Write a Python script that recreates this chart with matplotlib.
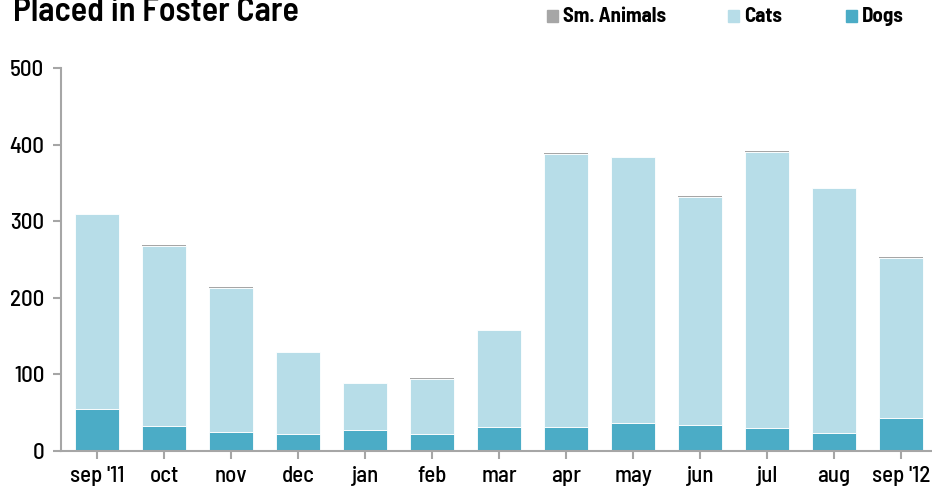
import numpy as np
import matplotlib.pyplot as plt

months = ["sep '11", "oct", "nov", "dec", "jan", "feb", "mar",
          "apr", "may", "jun", "jul", "aug", "sep '12"]
dogs = [55, 33, 25, 22, 27, 22, 31, 31, 37, 34, 30, 24, 43]
cats = [254, 234, 188, 107, 62, 72, 127, 357, 347, 298, 360, 319, 209]
sm_animals = [1, 2, 1, 0, 0, 1, 0, 1, 0, 1, 1, 0, 1]

# condensed face like the original; falls back to plain sans if missing
plt.rcParams['font.family'] = ["Barlow Semi Condensed", "Liberation Sans", "DejaVu Sans"]

c_dogs = "#4bacc6"
c_cats = "#b7dde8"
c_sm = "#a6a6a6"
grey = "#a6a6a6"

W, H = 932, 491
fig = plt.figure(figsize=(W / 100, H / 100), dpi=100)
# plot area: left spine at x=61 px, zero at y=451 px, 500 at y=68 px
ax = fig.add_axes([61 / W, (H - 451) / H, (W - 61) / W, (451 - 68) / H])

x = np.arange(len(months))
w = 0.66
dogs = np.array(dogs)
cats = np.array(cats)
sm_animals = np.array(sm_animals)

ax.bar(x, dogs, w, color=c_dogs, edgecolor="white", linewidth=0.6, label="Dogs")
ax.bar(x, cats, w, bottom=dogs, color=c_cats, edgecolor="white", linewidth=0.6, label="Cats")
ax.bar(x, sm_animals, w, bottom=dogs + cats, color=c_sm, linewidth=0, label="Sm. Animals")

ax.set_xlim(-0.54, 12.46)
ax.set_ylim(0, 500)
ax.set_yticks([0, 100, 200, 300, 400, 500])
ax.set_xticks(x)
ax.set_xticklabels(months)

for s in ["top", "right"]:
    ax.spines[s].set_visible(False)
for s in ["left", "bottom"]:
    ax.spines[s].set_color(grey)
    ax.spines[s].set_linewidth(1.5)
ax.tick_params(axis="both", colors=grey, width=1.5, length=6, labelcolor="black",
               labelsize=16.5)
for lab in ax.get_xticklabels() + ax.get_yticklabels():
    lab.set_fontweight(500)
ax.tick_params(axis="x", pad=5)
ax.tick_params(axis="y", pad=6)

fig.text(13 / W, 1 - 21 / H, "Placed in Foster Care", fontsize=24.5, fontweight=600,
         ha="left", va="baseline")

# legend laid out as in the original: squares + bold labels along the top
items = [("Sm. Animals", c_sm, 547), ("Cats", c_cats, 728), ("Dogs", c_dogs, 846)]
for name, col, px in items:
    fig.patches.append(plt.Rectangle((px / W, 1 - 22 / H), 11 / W, 12 / H,
                                     transform=fig.transFigure, color=col, figure=fig))
    fig.text((px + 16) / W, 1 - 22.5 / H, name, fontsize=15, fontweight="bold",
             ha="left", va="baseline")

fig.savefig("out.png", dpi=100)
